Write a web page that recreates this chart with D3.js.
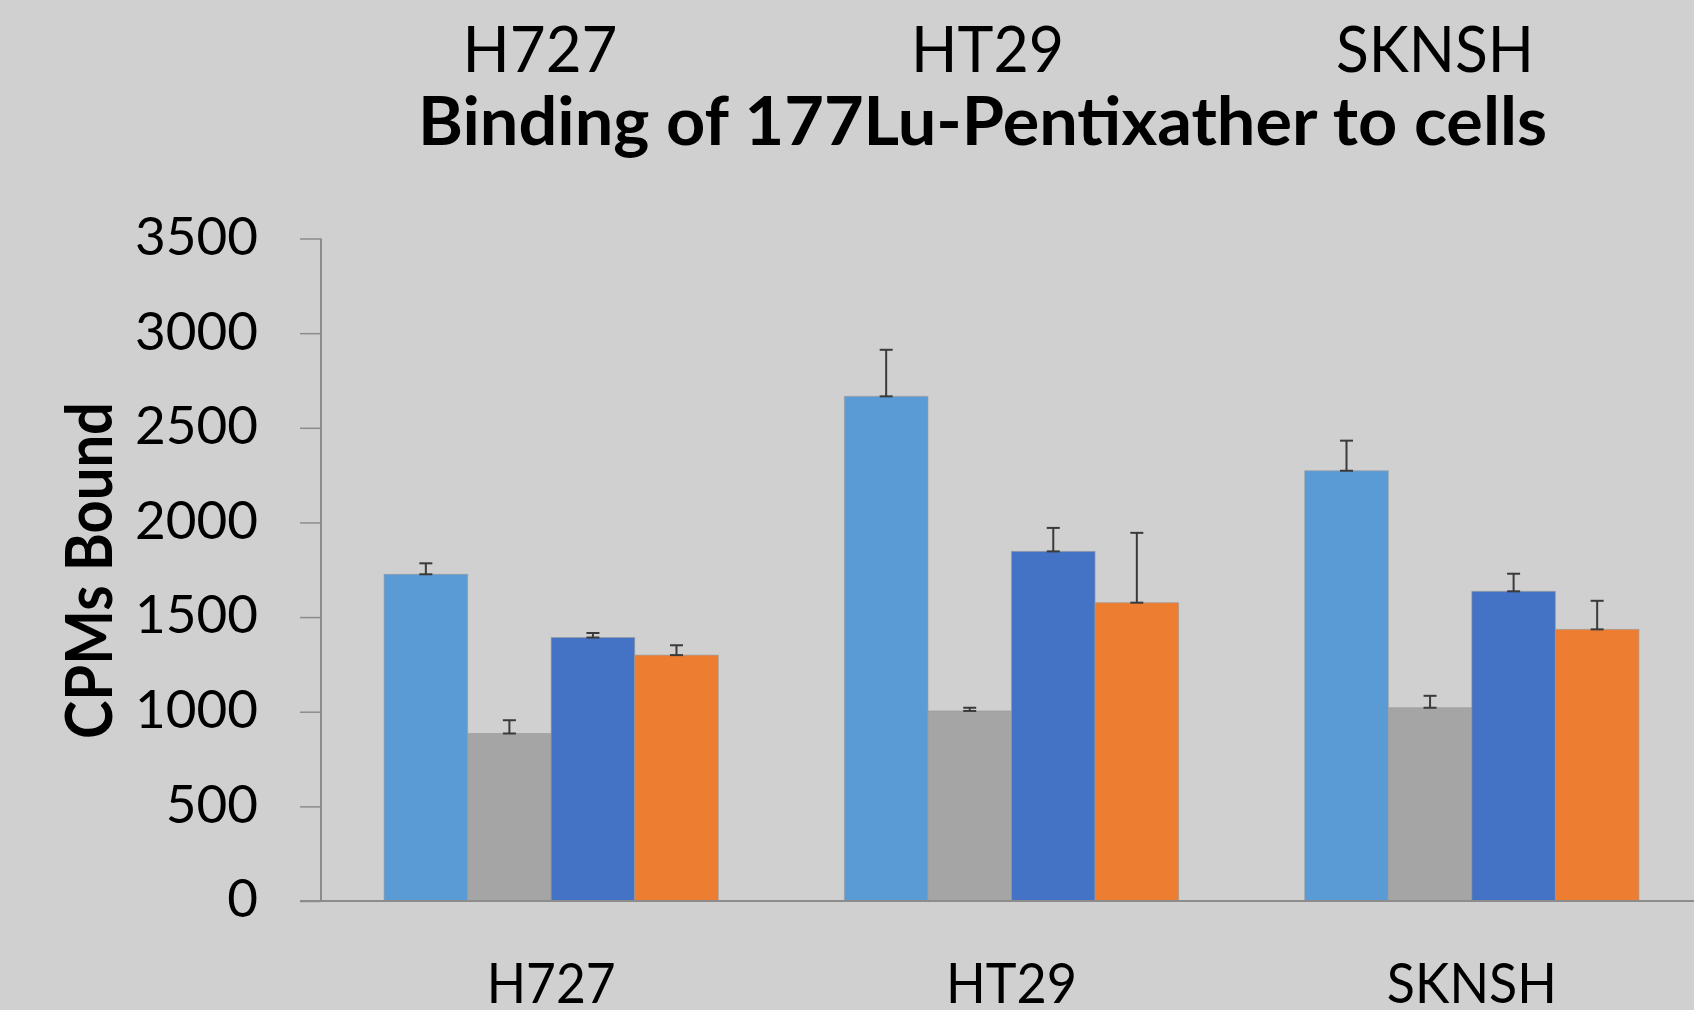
<!DOCTYPE html>
<html>
<head>
<meta charset="utf-8">
<script src="https://cdn.jsdelivr.net/npm/d3@7"></script>
<style>
  html, body { margin: 0; padding: 0; background: #d0d0d0; }
  svg { display: block; }
  text { font-family: Lato, "Open Sans", sans-serif; fill: #000; }
</style>
</head>
<body>
<svg id="chart" width="1694" height="1010"></svg>
<script>
// cell lines on the x axis
const cellLines = ["H727", "HT29", "SKNSH"];
// four bars per cell line (no legend in the original)
const seriesNames = ["Series 1", "Series 2", "Series 3", "Series 4"];
const seriesColors = ["#5b9bd5", "#a5a5a5", "#4472c4", "#ed7d31"];

// CPMs bound, one array per series, in cellLines order
const series1 = [1726, 2666, 2273];
const series2 = [885, 1004, 1021];
const series3 = [1392, 1847, 1636];
const series4 = [1299, 1576, 1435];

// upper error bar lengths
const err1 = [58, 246, 159];
const err2 = [70, 17, 63];
const err3 = [24, 124, 93];
const err4 = [52, 369, 151];

const yTicks = [0, 500, 1000, 1500, 2000, 2500, 3000, 3500];
const titleText = "Binding of 177Lu-Pentixather to cells";
const yLabel = "CPMs Bound";

const svg = d3.select("#chart");
const W = 1694, H = 1010;

svg.append("rect")
  .attr("width", W)
  .attr("height", H)
  .attr("fill", "#d0d0d0");

const plotLeft = 321, plotRight = 1702, plotTop = 238.5, plotBottom = 901;

const x0 = d3.scaleBand()
  .domain(cellLines)
  .range([plotLeft, plotRight])
  .paddingInner(0.274)
  .paddingOuter(0.137);

const x1 = d3.scaleBand()
  .domain(seriesNames)
  .range([0, x0.bandwidth()]);

const y = d3.scaleLinear()
  .domain([0, 3500])
  .range([plotBottom, plotTop]);

const values = [series1, series2, series3, series4];
const errors = [err1, err2, err3, err4];

// flatten into one record per bar
const bars = [];
cellLines.forEach(function (cell, i) {
  seriesNames.forEach(function (s, j) {
    bars.push({ cell: cell, series: s, value: values[j][i], err: errors[j][i], color: seriesColors[j] });
  });
});

// y axis
const yAxis = d3.axisLeft(y)
  .tickValues(yTicks)
  .tickSize(21)
  .tickPadding(42)
  .tickFormat(d3.format("d"));

const yG = svg.append("g")
  .attr("transform", "translate(" + plotLeft + ",0)")
  .call(yAxis);
yG.select(".domain")
  .attr("stroke", "#8c8c8c")
  .attr("stroke-width", 2)
  .attr("d", "M0," + plotTop + "V" + plotBottom);
yG.selectAll(".tick line")
  .attr("stroke", "#8c8c8c")
  .attr("stroke-width", 1.5);
yG.selectAll(".tick text")
  .attr("dy", "0.3em")
  .style("font-size", "53px")
  .style("font-family", "Lato, sans-serif")
  .attr("fill", "#000");

// bars
svg.append("g")
  .selectAll("rect")
  .data(bars)
  .enter().append("rect")
  .attr("x", function (d) { return x0(d.cell) + x1(d.series); })
  .attr("y", function (d) { return y(d.value); })
  .attr("width", x1.bandwidth())
  .attr("height", function (d) { return y(0) - y(d.value); })
  .attr("fill", function (d) { return d.color; })
  .attr("stroke", "#9a9a9a")
  .attr("stroke-opacity", 0.6)
  .attr("stroke-width", 1);

// x baseline
svg.append("line")
  .attr("x1", plotLeft - 21)
  .attr("x2", W)
  .attr("y1", y(0))
  .attr("y2", y(0))
  .attr("stroke", "#8c8c8c")
  .attr("stroke-width", 2);

// error bars: stem + caps at both ends
const capHalf = 6.5;
const eb = svg.append("g")
  .attr("stroke", "#3a3a3a")
  .attr("stroke-width", 2)
  .selectAll("g")
  .data(bars)
  .enter().append("g");

eb.append("line")
  .attr("x1", function (d) { return x0(d.cell) + x1(d.series) + x1.bandwidth() / 2; })
  .attr("x2", function (d) { return x0(d.cell) + x1(d.series) + x1.bandwidth() / 2; })
  .attr("y1", function (d) { return y(d.value); })
  .attr("y2", function (d) { return y(d.value + d.err); });

[0, 1].forEach(function (k) {
  eb.append("line")
    .attr("x1", function (d) { return x0(d.cell) + x1(d.series) + x1.bandwidth() / 2 - capHalf; })
    .attr("x2", function (d) { return x0(d.cell) + x1(d.series) + x1.bandwidth() / 2 + capHalf; })
    .attr("y1", function (d) { return y(d.value + k * d.err); })
    .attr("y2", function (d) { return y(d.value + k * d.err); });
});

// category labels under the axis
svg.append("g")
  .selectAll("text")
  .data(cellLines)
  .enter().append("text")
  .attr("x", function (d) { return x0(d) + x0.bandwidth() / 2; })
  .attr("y", 1003)
  .attr("text-anchor", "middle")
  .style("font-size", "56px")
  .attr("textLength", function (d) { return { H727: 129, HT29: 131, SKNSH: 170 }[d]; })
  .attr("lengthAdjust", "spacingAndGlyphs")
  .text(function (d) { return d; });

// the same names repeated above the title
const topX = { H727: 540, HT29: 987.5, SKNSH: 1435 };
const topW = { H727: 155, HT29: 153, SKNSH: 198 };
svg.append("g")
  .selectAll("text")
  .data(cellLines)
  .enter().append("text")
  .attr("x", function (d) { return topX[d]; })
  .attr("y", 72)
  .attr("text-anchor", "middle")
  .style("font-size", "63px")
  .attr("textLength", function (d) { return topW[d]; })
  .attr("lengthAdjust", "spacingAndGlyphs")
  .text(function (d) { return d; });

// title
svg.append("text")
  .attr("x", 982.5)
  .attr("y", 145)
  .attr("text-anchor", "middle")
  .style("font-size", "66px")
  .style("font-weight", "bold")
  .attr("textLength", 1129)
  .attr("lengthAdjust", "spacingAndGlyphs")
  .text(titleText);

// y axis label
svg.append("text")
  .attr("transform", "translate(112,570.5)rotate(-90)")
  .attr("text-anchor", "middle")
  .style("font-size", "65px")
  .style("font-weight", "bold")
  .attr("textLength", 337)
  .attr("lengthAdjust", "spacingAndGlyphs")
  .text(yLabel);
</script>
</body>
</html>
